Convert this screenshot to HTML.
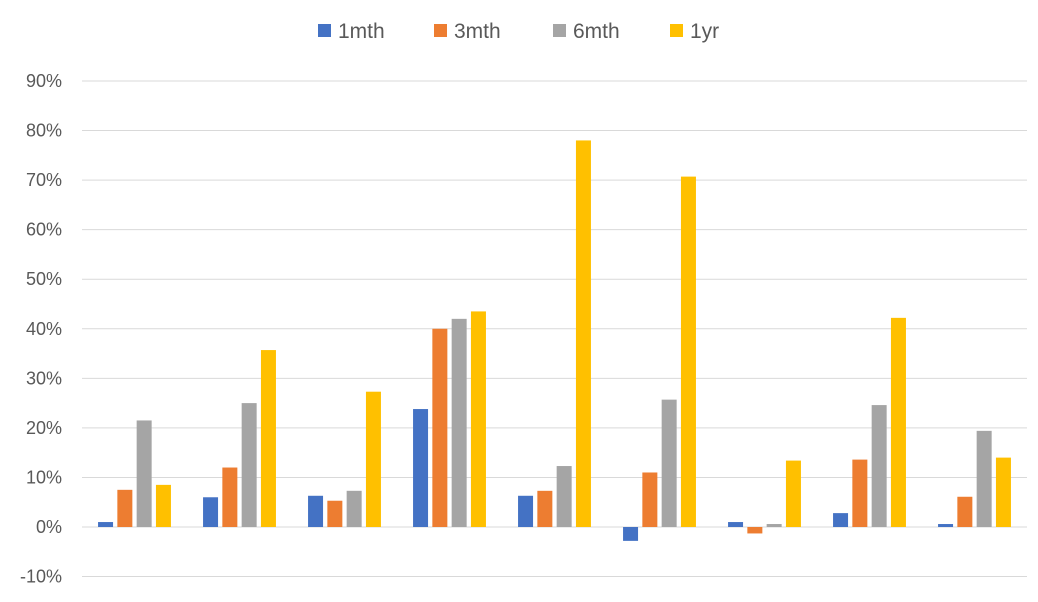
<!DOCTYPE html>
<html><head><meta charset="utf-8"><style>
body{margin:0;background:#fff;}
svg{display:block;font-family:"Liberation Sans",sans-serif;}
</style></head><body>
<svg id="chart" width="1038" height="602" viewBox="0 0 1038 602">
<g id="legend"></g>
<g id="grid"></g>
<g id="yticks"></g>
<g id="bars"></g>
</svg>
<script>
const categories = ["G1","G2","G3","G4","G5","G6","G7","G8","G9"];
const seriesNames = ["1mth","3mth","6mth","1yr"];
const s1mth = [1.0, 6.0, 6.3, 23.8, 6.3, -2.8, 1.0, 2.8, 0.6];
const s3mth = [7.5, 12.0, 5.3, 40.0, 7.3, 11.0, -1.3, 13.6, 6.1];
const s6mth = [21.5, 25.0, 7.3, 42.0, 12.3, 25.7, 0.6, 24.6, 19.4];
const s1yr = [8.5, 35.7, 27.3, 43.5, 78.0, 70.7, 13.4, 42.2, 14.0];
const yTicks = [-10,0,10,20,30,40,50,60,70,80,90];
const colors = ["#4472C4","#ED7D31","#A5A5A5","#FFC000"];
const series = [s1mth, s3mth, s6mth, s1yr];

const NS = "http://www.w3.org/2000/svg";
const x0 = 82, x1 = 1027, yZero = 527, pxPer = 4.956;
const y = v => yZero - v * pxPer;
const band = (x1 - x0) / categories.length;
const barW = 15, gap = 4.3;
function mk(tag, attrs, parent){
  const e = document.createElementNS(NS, tag);
  for (const k in attrs) e.setAttribute(k, attrs[k]);
  parent.appendChild(e); return e;
}
const grid = document.getElementById("grid");
const yt = document.getElementById("yticks");
yTicks.forEach(t => {
  const l = mk("line", {x1:x0, x2:x1, y1:y(t), y2:y(t), stroke:"#d9d9d9", "stroke-width":1}, grid);
  
  
  const tx = mk("text", {x:62, y:y(t)+6, "text-anchor":"end", "font-size":18, fill:"#595959"}, yt);
  tx.textContent = t + "%";
  
  
});
const bars = document.getElementById("bars");
const groupW = 4*barW + 3*gap;
categories.forEach((c, i) => {
  const cx = x0 + band*(i + 0.5);
  series.forEach((s, j) => {
    const v = s[i];
    const bx = cx - groupW/2 + j*(barW+gap);
    const top = Math.min(y(v), yZero);
    const r = mk("rect", {x:bx, y:top, width:barW, height:Math.abs(y(v)-yZero), fill:colors[j]}, bars);
    
    
  });
});
const lg = document.getElementById("legend");
const lx = [318, 434, 553, 670];
seriesNames.forEach((n, j) => {
  const sq = mk("rect", {x:lx[j], y:24, width:13, height:13, fill:colors[j]}, lg);
  
  
  const t = mk("text", {x:lx[j]+20, y:38, "font-size":21, fill:"#595959"}, lg);
  t.textContent = n;
  
  
});
</script>
</body></html>
